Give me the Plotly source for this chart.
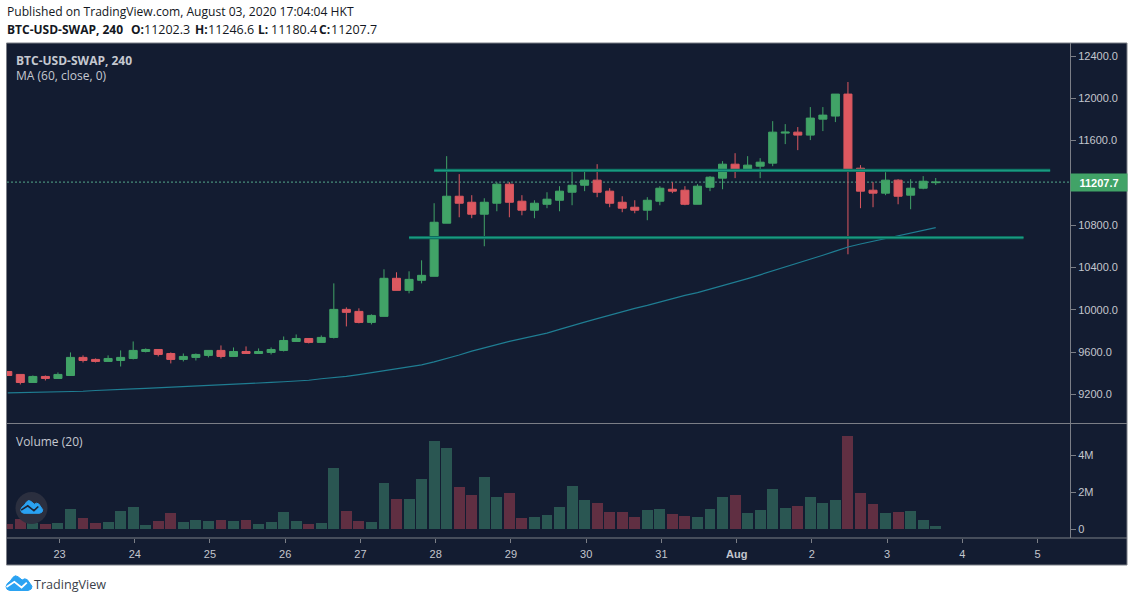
import pandas as pd
import plotly.graph_objects as go

OPEN = [9417, 9389, 9313, 9370, 9351, 9379, 9550, 9531, 9512, 9521, 9540, 9606, 9625, 9587, 9531,
        9550, 9569, 9616, 9559, 9606, 9587, 9597, 9616, 9701, 9729, 9692, 9739, 10004, 9985, 9881,
        9938, 10298, 10184, 10279, 10317, 10819, 11074, 11017, 10904, 11008, 11188, 11027, 10942, 10998, 11036,
        11112, 11178, 11226, 11122, 11017, 10970, 10942, 11027, 11140, 11131, 10998, 11159, 11245, 11377, 11330,
        11358, 11387, 11671, 11680, 11652, 11803, 11832, 12040, 11339, 11131, 11103, 11226, 11084, 11150, 11202.3]
HIGH = [9417, 9389, 9379, 9379, 9408, 9597, 9569, 9540, 9569, 9616, 9701, 9635, 9625, 9597, 9587,
        9587, 9616, 9663, 9644, 9654, 9635, 9644, 9748, 9767, 9729, 9758, 10250, 10023, 10014, 9957,
        10383, 10355, 10364, 10468, 11008, 11453, 11283, 11084, 11055, 11207, 11207, 11084, 11036, 11112, 11169,
        11330, 11311, 11377, 11150, 11074, 11036, 11065, 11169, 11207, 11169, 11188, 11264, 11406, 11481, 11453,
        11434, 11784, 11756, 11728, 11917, 11917, 12040, 12154, 11368, 11207, 11301, 11235, 11235, 11264, 11246.6]
LOW = [9379, 9294, 9313, 9332, 9351, 9379, 9502, 9502, 9512, 9464, 9531, 9597, 9559, 9493, 9512,
       9521, 9550, 9540, 9559, 9587, 9587, 9578, 9606, 9701, 9682, 9692, 9729, 9843, 9872, 9862,
       9938, 10184, 10156, 10250, 10317, 10819, 10875, 10866, 10601, 10932, 10875, 10894, 10866, 10961, 10932,
       10989, 11122, 11065, 10970, 10923, 10913, 10847, 10989, 11103, 10989, 10998, 11122, 11140, 11245, 11311,
       11245, 11358, 11567, 11510, 11605, 11690, 11775, 10525, 10961, 10970, 11084, 10998, 10951, 11140, 11180.4]
CLOSE = [9379, 9313, 9370, 9351, 9389, 9550, 9521, 9512, 9540, 9550, 9616, 9625, 9578, 9531, 9559,
         9578, 9616, 9559, 9606, 9587, 9606, 9625, 9710, 9729, 9692, 9739, 10004, 9976, 9881, 9947,
         10298, 10184, 10288, 10326, 10828, 11074, 11008, 10904, 11017, 11188, 11017, 10942, 11008, 11046, 11122,
         11178, 11226, 11112, 11008, 10961, 10942, 11036, 11150, 11122, 10998, 11169, 11254, 11377, 11330, 11368,
         11396, 11680, 11680, 11652, 11813, 11841, 12040, 11330, 11122, 11103, 11226, 11074, 11150, 11216, 11207.7]
VOLUME = [0.27, 0.54, 0.30, 0.27, 0.32, 1.08, 0.59, 0.32, 0.38, 0.97, 1.19, 0.22, 0.43, 0.86, 0.38,
          0.49, 0.43, 0.49, 0.43, 0.49, 0.27, 0.38, 0.92, 0.43, 0.27, 0.32, 3.30, 0.97, 0.43, 0.38,
          2.49, 1.62, 1.62, 2.70, 4.76, 4.38, 2.27, 1.84, 2.81, 1.73, 1.95, 0.59, 0.65, 0.76, 1.19,
          2.32, 1.57, 1.41, 0.92, 0.92, 0.65, 1.03, 1.08, 0.81, 0.70, 0.65, 1.08, 1.73, 1.84, 0.86,
          1.03, 2.16, 1.14, 1.24, 1.73, 1.41, 1.57, 5.03, 1.95, 1.35, 0.86, 0.92, 0.97, 0.49, 0.16]
MA60 = [9214, 9216, 9219, 9221, 9223, 9225, 9230, 9237, 9244, 9248, 9253, 9258, 9263, 9267, 9272,
        9277, 9282, 9288, 9296, 9301, 9306, 9313, 9320, 9326, 9334, 9348, 9357, 9370, 9387, 9405,
        9424, 9442, 9461, 9480, 9507, 9537, 9573, 9609, 9641, 9673, 9701, 9727, 9753, 9780, 9815,
        9853, 9884, 9916, 9950, 9985, 10014, 10042, 10075, 10111, 10137, 10162, 10194, 10225, 10260, 10295,
        10331, 10367, 10405, 10443, 10479, 10516, 10555, 10594, 10622, 10648, 10676, 10705, 10733, 10759, 10778]

RESISTANCE = 11318
RESISTANCE_X = ["2020-07-28 00:00", "2020-08-05 04:30"]
SUPPORT = 10683
SUPPORT_X = ["2020-07-27 16:00", "2020-08-04 20:00"]
LAST_PRICE = 11207.7

DAY_TICKS = ["2020-07-23", "2020-07-24", "2020-07-25", "2020-07-26", "2020-07-27", "2020-07-28", "2020-07-29",
             "2020-07-30", "2020-07-31", "2020-08-01", "2020-08-02", "2020-08-03", "2020-08-04", "2020-08-05"]
DAY_LABELS = ["23", "24", "25", "26", "27", "28", "29", "30", "31", "<b>Aug</b>", "2", "3", "4", "5"]
PRICE_TICKS = [9200, 9600, 10000, 10400, 10800, 11600, 12000, 12400]
VOLUME_TICKS = [0, 2, 4]
VOLUME_LABELS = ["0", "2M", "4M"]

times = pd.date_range("2020-07-22 08:00", periods=len(CLOSE), freq="4h")
# the tick marks sit a touch right of the candle grid in the original
tick_times = pd.to_datetime(DAY_TICKS) + pd.Timedelta(minutes=30)

BG = "#131c31"
UP = "#41a367"
DOWN = "#dc5860"
UP_VOL = "#2a5652"
DOWN_VOL = "#602f42"
FRAME = "#7b7e86"
TICK = "#c3c6ce"
X_START = "2020-07-22 07:45"
X_END = "2020-08-05 10:50"


# frame pixels to paper coords, the plot area is the whole dark box
def px(x):
    return (x - 7) / 1120


def py(y):
    return (565 - y) / 522


def blob(x0, y0, w, h, pts):
    return "M" + " L".join(f"{px(x0 + u * w):.5f},{py(y0 + v * h):.5f}" for u, v in pts)


CLOUD = [(0.14, 1), (0.04, 0.92), (0, 0.74), (0.05, 0.54), (0.17, 0.36), (0.27, 0.12), (0.36, 0.02), (0.46, 0.08),
         (0.62, 0.30), (0.72, 0.22), (0.82, 0.28), (0.92, 0.52), (1, 0.72), (0.97, 0.9), (0.86, 1)]
ZIGZAG = [(0.02, 0.76), (0.32, 0.42), (0.60, 0.80), (0.80, 0.48)]

fig = go.Figure()
fig.add_trace(go.Bar(x=times, y=VOLUME, yaxis="y2", width=4 * 3600 * 1000 * 0.87,
                     marker_color=[UP_VOL if c >= o else DOWN_VOL for o, c in zip(OPEN, CLOSE)],
                     marker_line_width=0))
fig.add_trace(go.Candlestick(x=times, open=OPEN, high=HIGH, low=LOW, close=CLOSE,
                             increasing=dict(line=dict(color=UP, width=1), fillcolor=UP),
                             decreasing=dict(line=dict(color=DOWN, width=1), fillcolor=DOWN),
                             whiskerwidth=0))
fig.add_trace(go.Scatter(x=times, y=MA60, mode="lines", line=dict(color="#1f7d92", width=1.2)))
for xs, level in [(RESISTANCE_X, RESISTANCE), (SUPPORT_X, SUPPORT)]:
    fig.add_trace(go.Scatter(x=xs, y=[level, level], mode="lines", line=dict(color="#0d6a5e", width=3.2)))
    fig.add_trace(go.Scatter(x=xs, y=[level, level], mode="lines", line=dict(color="#1a9a80", width=1.4)))

shapes = [
    dict(type="rect", xref="paper", yref="paper", x0=px(6.5), x1=px(1127), y0=py(565), y1=py(43),
         fillcolor=BG, line_width=0, layer="below"),
    dict(type="line", xref="x", yref="y", x0=X_START, x1=X_END,
         y0=LAST_PRICE, y1=LAST_PRICE, line=dict(color="#55a98c", width=1, dash="2px,2px"), layer="below"),
    dict(type="rect", xref="paper", yref="paper", x0=px(6.5), x1=px(1127), y0=py(565), y1=py(43),
         line=dict(color=FRAME, width=1)),
    dict(type="line", xref="paper", yref="paper", x0=0, x1=1, y0=py(423.5), y1=py(423.5),
         line=dict(color=FRAME, width=1)),
    dict(type="line", xref="paper", yref="paper", x0=0, x1=1, y0=py(538), y1=py(538),
         line=dict(color=FRAME, width=1)),
    dict(type="circle", xref="paper", yref="paper", x0=px(15.5), x1=px(47.5), y0=py(524), y1=py(492),
         fillcolor="#2b2f3f", line_width=0),
    dict(type="path", xref="paper", yref="paper", path=blob(20.7, 500.3, 22, 13, CLOUD) + " Z",
         fillcolor="#2aa2f2", line=dict(color="#2aa2f2", width=1)),
    dict(type="path", xref="paper", yref="paper", path=blob(20.7, 500.3, 22, 13, ZIGZAG),
         line=dict(color="#1d2436", width=1.6)),
    dict(type="path", xref="paper", yref="paper", path=blob(6, 575.5, 26, 15, CLOUD) + " Z",
         fillcolor="#2aa2f2", line=dict(color="#2aa2f2", width=1)),
    dict(type="path", xref="paper", yref="paper", path=blob(6, 575.5, 26, 15, ZIGZAG),
         line=dict(color="#ffffff", width=1.8)),
]


def label(x, y, text, size=12, color="#131722", family="Open Sans"):
    return dict(xref="paper", yref="paper", x=px(x), y=py(y), text=text, showarrow=False, xanchor="left",
                yanchor="middle", align="left", font=dict(family=family, size=size, color=color))


annotations = [
    label(5, 12, "Published on TradingView.com, August 03, 2020 17:04:04 HKT", size=12.1),
    label(5, 29, "<b>BTC-USD-SWAP, 240</b>"),
    label(129, 29, "<b>O:</b>"),
    label(142, 29, "11202.3", size=12.5),
    label(193, 29, "<b>H:</b>"),
    label(206, 29, "11246.6", size=12.5),
    label(256, 29, "<b>L:</b>"),
    label(269, 29, "11180.4", size=12.5),
    label(317, 29, "<b>C:</b>"),
    label(329, 29, "11207.7", size=12.5),
    label(13.5, 60, "<b>BTC-USD-SWAP, 240</b>", color="#c5c8d0"),
    label(13.5, 76, "MA (60, close, 0)", color="#c5c8d0"),
    label(13.5, 441, "Volume (20)", color="#c5c8d0"),
    label(32, 584, "TradingView", size=12.6, color="#3b3f4a"),
    dict(xref="paper", yref="y", x=px(1070), y=LAST_PRICE, text="<b>11207.7</b>", showarrow=False, xanchor="left",
         yanchor="middle", width=56, height=17, bgcolor=UP, align="center", borderpad=0,
         font=dict(family="Liberation Sans", size=11, color="#ffffff")),
]

fig.update_layout(
    width=1134, height=602, margin=dict(l=7, r=7, t=43, b=37),
    paper_bgcolor="#ffffff", plot_bgcolor=BG, showlegend=False, bargap=0, boxgap=0.36, boxgroupgap=0,
    shapes=shapes, annotations=annotations,
    font=dict(family="Liberation Sans", size=11, color=TICK),
    xaxis=dict(domain=[0, px(1070)], anchor="y2", type="date", range=[X_START, X_END],
               rangeslider=dict(visible=False), showgrid=False, zeroline=False, showline=False,
               tickmode="array", tickvals=tick_times, ticktext=DAY_LABELS, ticks="outside", ticklen=4,
               ticklabelstandoff=2, tickcolor=FRAME, tickfont=dict(size=11, color=TICK)),
    yaxis=dict(domain=[py(423.5), 1], anchor="x", side="right", range=[8925, 12523], showgrid=False, zeroline=False,
               showline=True, linecolor=FRAME, tickmode="array", tickvals=PRICE_TICKS,
               ticktext=[f"{v:.1f}" for v in PRICE_TICKS], ticks="outside", ticklen=5, tickcolor=FRAME,
               tickfont=dict(size=11, color=TICK)),
    yaxis2=dict(domain=[py(538), py(424)], anchor="x", side="right", range=[-0.486, 5.68], showgrid=False,
                zeroline=False, showline=True, linecolor=FRAME, tickmode="array", tickvals=VOLUME_TICKS,
                ticktext=VOLUME_LABELS, ticks="outside", ticklen=5, tickcolor=FRAME,
                tickfont=dict(size=11, color=TICK)),
)

fig.write_html("out.html", config=dict(displayModeBar=False),
               post_script="document.body.style.margin='0';document.body.style.overflow='hidden';")
